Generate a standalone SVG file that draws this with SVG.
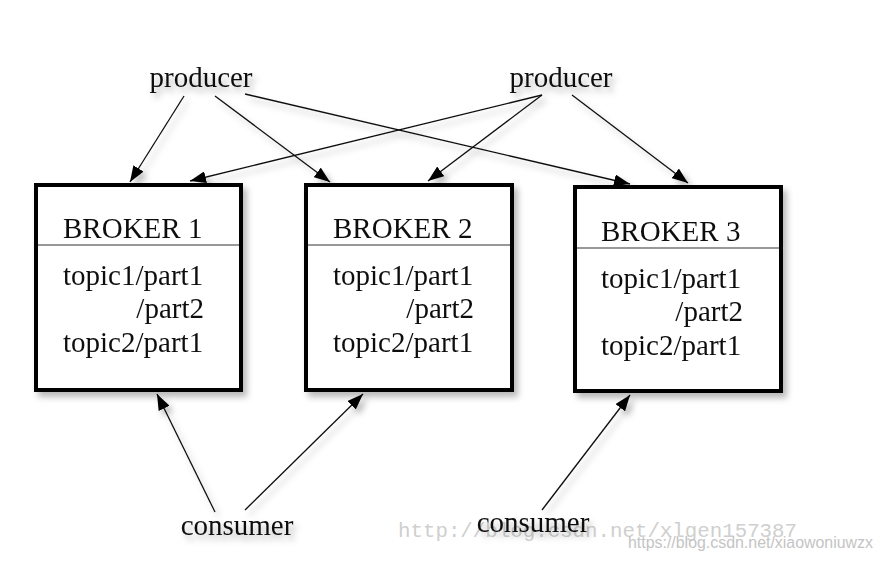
<svg xmlns="http://www.w3.org/2000/svg" width="883" height="566" viewBox="0 0 883 566">
<style>
.t{font-family:"Liberation Serif","Times New Roman",serif;font-size:29px;fill:#111}
.box{fill:#fff;stroke:#000;stroke-width:4}
.div{stroke:#333;stroke-width:1.2}
.c{stroke:#111;stroke-width:1.3;fill:none;marker-end:url(#ah)}
.wm1{font-family:"Liberation Mono","Courier New",monospace;font-size:21px;fill:#cfcfcf}
.wm2{font-family:"Liberation Sans",Arial,sans-serif;font-size:16px;fill:#c4c4c4}
</style>
<defs>
<marker id="ah" viewBox="0 0 16 12" refX="16" refY="6" markerWidth="16" markerHeight="12" markerUnits="userSpaceOnUse" orient="auto">
<path d="M0,0 L16,6 L0,12 z" fill="#000"/>
</marker>
<filter id="sh" x="-20%" y="-20%" width="150%" height="150%">
<feDropShadow dx="4" dy="5" stdDeviation="3" flood-color="#000" flood-opacity="0.28"/>
</filter>
</defs>
<rect width="883" height="566" fill="#fff"/>
<g id="connectors" filter="url(#sh)">
<line class="c" x1="184" y1="96" x2="130" y2="182"/>
<line class="c" x1="215" y1="96" x2="330" y2="182"/>
<line class="c" x1="245" y1="94" x2="630" y2="184"/>
<line class="c" x1="542" y1="95" x2="190" y2="181"/>
<line class="c" x1="542" y1="95" x2="428" y2="181"/>
<line class="c" x1="572" y1="95" x2="688" y2="183"/>
<line class="c" x1="215" y1="512" x2="157" y2="394"/>
<line class="c" x1="245" y1="510" x2="363" y2="394"/>
<line class="c" x1="542" y1="510" x2="630" y2="395"/>
</g>
<g id="broker1" filter="url(#sh)">
<rect class="box" x="36" y="185" width="205" height="205"/>
<line class="div" x1="38" y1="245" x2="239" y2="245"/>
<text class="t" x="63" y="238">BROKER 1</text>
<text class="t" x="63" y="285">topic1/part1</text>
<text class="t" x="204" y="318" text-anchor="end">/part2</text>
<text class="t" x="63" y="352">topic2/part1</text>
</g>
<g id="broker2" filter="url(#sh)">
<rect class="box" x="306" y="185" width="206" height="205"/>
<line class="div" x1="308" y1="245" x2="510" y2="245"/>
<text class="t" x="333" y="238">BROKER 2</text>
<text class="t" x="333" y="285">topic1/part1</text>
<text class="t" x="474" y="318" text-anchor="end">/part2</text>
<text class="t" x="333" y="352">topic2/part1</text>
</g>
<g id="broker3" filter="url(#sh)">
<rect class="box" x="575" y="187" width="206" height="204"/>
<line class="div" x1="577" y1="248" x2="779" y2="248"/>
<text class="t" x="601" y="241">BROKER 3</text>
<text class="t" x="601" y="288">topic1/part1</text>
<text class="t" x="743" y="321" text-anchor="end">/part2</text>
<text class="t" x="601" y="355">topic2/part1</text>
</g>
<g id="producer1" filter="url(#sh)">
<text class="t" x="201" y="87" text-anchor="middle">producer</text>
</g>
<g id="producer2" filter="url(#sh)">
<text class="t" x="561" y="87" text-anchor="middle">producer</text>
</g>
<g id="watermark">
<text class="wm1" x="398" y="537" textLength="399" lengthAdjust="spacingAndGlyphs">http://blog.csdn.net/xlgen157387</text>
<text class="wm2" x="628" y="548" textLength="245" lengthAdjust="spacingAndGlyphs">https://blog.csdn.net/xiaowoniuwzx</text>
</g>
<g id="consumer1" filter="url(#sh)">
<text class="t" x="237" y="535" text-anchor="middle">consumer</text>
</g>
<g id="consumer2" filter="url(#sh)">
<text class="t" x="533" y="532" text-anchor="middle">consumer</text>
</g>
</svg>
